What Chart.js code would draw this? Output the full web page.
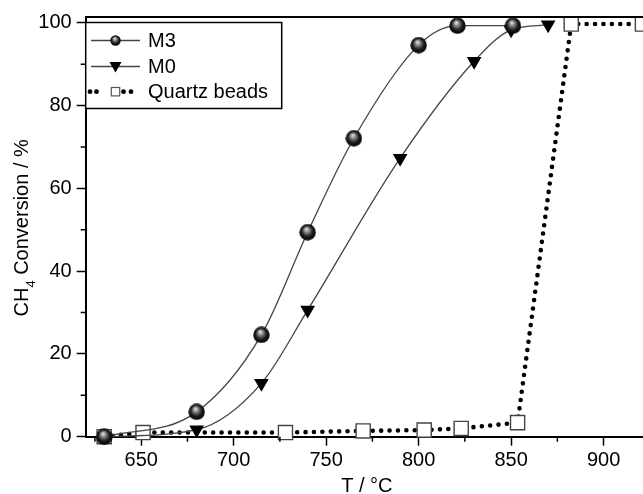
<!DOCTYPE html>
<html>
<head>
<meta charset="utf-8">
<script src="https://cdn.jsdelivr.net/npm/chart.js@4.4.0/dist/chart.umd.min.js"></script>
<style>
html, body { margin: 0; padding: 0; background: #fff; overflow: hidden; }
</style>
</head>
<body>
<canvas id="conversion-chart" width="660" height="494"></canvas>
<script>
// values
const tempM3 = [630, 680, 715, 740, 765, 800, 821, 851];
const convM3 = [0, 6, 24.6, 49.4, 72.1, 94.6, 99.3, 99.3];
const tempM0 = [630, 680, 715, 740, 790, 830, 850, 870];
const convM0 = [0, 1.7, 12.9, 30.6, 67.3, 90.7, 98.3, 99.5];
const tempQuartz = [630, 651, 728, 770, 803, 823, 853.5, 882.5, 921];
const convQuartz = [0, 1, 1, 1.4, 1.6, 2, 3.4, 99.7, 99.7];
const seriesNames = ["M3", "M0", "Quartz beads"];
const xTicks = [650, 700, 750, 800, 850, 900];
const yTicks = [0, 20, 40, 60, 80, 100];
const xMinor = [625, 675, 725, 775, 825, 875];
const yMinor = [10, 30, 50, 70, 90];

const FONT = "'Liberation Sans', Arial, Helvetica, sans-serif";

function sphere(size) {
    const c = document.createElement("canvas");
    c.width = size;
    c.height = size;
    const g = c.getContext("2d");
    const r = size / 2;
    const grad = g.createRadialGradient(r - r * 0.15, r - r * 0.4, 0, r, r, r);
    grad.addColorStop(0, "#f2f2f2");
    grad.addColorStop(0.3, "#8a8a8a");
    grad.addColorStop(0.65, "#1e1e1e");
    grad.addColorStop(1, "#000");
    g.fillStyle = grad;
    g.beginPath();
    g.arc(r, r, r - 0.3, 0, Math.PI * 2);
    g.fill();
    return c;
}
const ball = sphere(17);
const ballSmall = sphere(11);

const pts = (xs, ys) => xs.map((x, i) => ({ x: x, y: ys[i] }));

const decor = {
    id: "decor",
    afterDraw(chart) {
        const ctx = chart.ctx;
        const a = chart.chartArea;
        const sx = chart.scales.x;
        const sy = chart.scales.y;
        ctx.save();
        ctx.strokeStyle = "#000";

        // top frame line
        ctx.lineWidth = 2;
        ctx.beginPath();
        ctx.moveTo(a.left, a.top);
        ctx.lineTo(chart.width, a.top);
        ctx.stroke();

        // minor ticks
        ctx.lineWidth = 1.5;
        ctx.beginPath();
        xMinor.forEach(v => {
            const px = sx.getPixelForValue(v);
            ctx.moveTo(px, a.bottom);
            ctx.lineTo(px, a.bottom + 5);
        });
        yMinor.forEach(v => {
            const py = sy.getPixelForValue(v);
            ctx.moveTo(a.left, py);
            ctx.lineTo(a.left - 5, py);
        });
        ctx.stroke();

        // legend
        ctx.lineWidth = 1.5;
        ctx.fillStyle = "#fff";
        ctx.fillRect(a.left, 22.5, 196, 86);
        ctx.strokeRect(a.left, 22.5, 196, 86);
        const rows = [40.5, 66.5, 91.7];
        const mx = 115.5;
        ctx.strokeStyle = "#444";
        ctx.lineWidth = 1.3;
        [0, 1].forEach(i => {
            ctx.beginPath();
            ctx.moveTo(91, rows[i]);
            ctx.lineTo(140, rows[i]);
            ctx.stroke();
        });
        ctx.drawImage(ballSmall, mx - 5.5, rows[0] - 5.5, 11, 11);
        ctx.fillStyle = "#000";
        ctx.beginPath();
        ctx.moveTo(mx - 6, rows[1] - 4.5);
        ctx.lineTo(mx + 6, rows[1] - 4.5);
        ctx.lineTo(mx, rows[1] + 6);
        ctx.closePath();
        ctx.fill();
        [90, 96.5, 123.5, 131].forEach(dx => {
            ctx.beginPath();
            ctx.arc(dx, rows[2], 2.4, 0, Math.PI * 2);
            ctx.fill();
        });
        ctx.fillStyle = "#fff";
        ctx.strokeStyle = "#555";
        ctx.lineWidth = 1.2;
        ctx.fillRect(mx - 4.2, rows[2] - 4.2, 8.4, 8.4);
        ctx.strokeRect(mx - 4.2, rows[2] - 4.2, 8.4, 8.4);

        ctx.fillStyle = "#000";
        ctx.font = "20px " + FONT;
        ctx.textBaseline = "middle";
        ctx.textAlign = "left";
        seriesNames.forEach((n, i) => ctx.fillText(n, 148, rows[i] + 1));

        // x title
        ctx.textAlign = "center";
        ctx.textBaseline = "alphabetic";
        ctx.fillText("T / °C", (a.left + a.right) / 2, 492);

        // y title with subscript
        const big = "20px " + FONT;
        const small = "13px " + FONT;
        ctx.font = big;
        const w1 = ctx.measureText("CH").width;
        const w3 = ctx.measureText(" Conversion / %").width;
        ctx.font = small;
        const w2 = ctx.measureText("4").width;
        const total = w1 + w2 + w3;
        ctx.translate(28, (a.top + a.bottom) / 2 + 1);
        ctx.rotate(-Math.PI / 2);
        ctx.textAlign = "left";
        let pos = -total / 2;
        ctx.font = big;
        ctx.fillText("CH", pos, 0);
        pos += w1;
        ctx.font = small;
        ctx.fillText("4", pos, 7);
        pos += w2;
        ctx.font = big;
        ctx.fillText(" Conversion / %", pos, 0);
        ctx.restore();
    },
};

const tickFont = { family: FONT, size: 20 };

new Chart(document.querySelector("#conversion-chart"), {
    type: "line",
    data: {
        datasets: [
            {
                label: seriesNames[0],
                data: pts(tempM3, convM3),
                borderColor: "#444",
                borderWidth: 1.3,
                cubicInterpolationMode: "monotone",
                pointStyle: ball,
                pointRadius: 8,
                clip: false,
            },
            {
                label: seriesNames[1],
                data: pts(tempM0, convM0),
                borderColor: "#444",
                borderWidth: 1.3,
                cubicInterpolationMode: "monotone",
                pointStyle: "triangle",
                pointRotation: 180,
                pointRadius: 8.5,
                pointBackgroundColor: "#000",
                pointBorderColor: "#000",
                pointBorderWidth: 0,
                clip: false,
            },
            {
                label: seriesNames[2],
                data: pts(tempQuartz, convQuartz),
                borderColor: "#000",
                borderWidth: 4.6,
                borderDash: [0, 8.4],
                borderCapStyle: "round",
                tension: 0,
                pointStyle: "rect",
                pointRadius: 10,
                pointBackgroundColor: "#fff",
                pointBorderColor: "#444",
                pointBorderWidth: 1.4,
                clip: false,
            },
        ],
    },
    options: {
        responsive: false,
        animation: false,
        devicePixelRatio: 1,
        layout: { padding: { left: 0, top: 17, right: 12, bottom: 0 } },
        plugins: { legend: { display: false }, tooltip: { enabled: false } },
        scales: {
            x: {
                type: "linear",
                min: 620,
                max: 924,
                afterBuildTicks: s => { s.ticks = xTicks.map(v => ({ value: v })); },
                afterFit: s => { s.height = 57.3; },
                grid: { drawOnChartArea: false, tickLength: 9, tickWidth: 1.5, tickColor: "#000" },
                border: { color: "#000", width: 2 },
                ticks: { padding: 3, font: tickFont, color: "#000", maxRotation: 0, autoSkip: false },
            },
            y: {
                min: 0,
                max: 101.4,
                afterBuildTicks: s => { s.ticks = yTicks.map(v => ({ value: v })); },
                afterFit: s => { s.width = 85.7; },
                grid: { drawOnChartArea: false, tickLength: 9, tickWidth: 1.5, tickColor: "#000" },
                border: { color: "#000", width: 2 },
                ticks: { padding: 5, font: tickFont, color: "#000" },
            },
        },
    },
    plugins: [decor],
});
</script>
</body>
</html>
